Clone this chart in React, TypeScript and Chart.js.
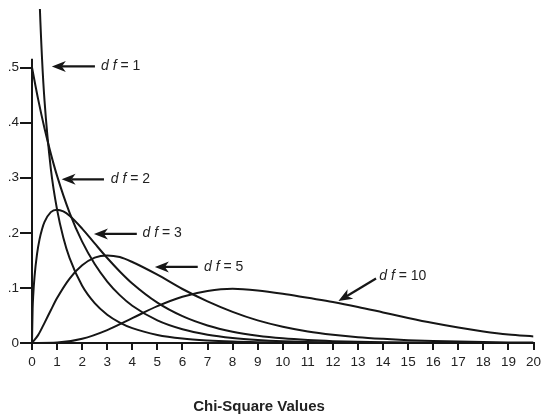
import React, { useEffect, useRef } from "react";
import { Chart, registerables } from "chart.js";

Chart.register(...registerables);

// ---- data (chi-square densities) ----
const df1X = [0.1, 0.2, 0.3, 0.4, 0.5, 0.75, 1, 1.25, 1.5, 2, 2.5, 3, 3.5, 4, 5, 6, 7, 8, 9, 10, 12, 14, 16, 18, 20];
const df1Y = [1.2, 0.8071, 0.6269, 0.5164, 0.4394, 0.3166, 0.242, 0.191, 0.1539, 0.1038, 0.0723, 0.0514, 0.0371, 0.027, 0.0147, 0.0081, 0.0046, 0.0026, 0.0015, 0.0009, 0.0003, 0.0001, 0, 0, 0];

const df2X = [0, 0.25, 0.5, 0.75, 1, 1.5, 2, 2.5, 3, 3.5, 4, 5, 6, 7, 8, 9, 10, 12, 14, 16, 18, 20];
const df2Y = [0.5, 0.4412, 0.3894, 0.3437, 0.3033, 0.2362, 0.1839, 0.1433, 0.1116, 0.0869, 0.0677, 0.041, 0.0249, 0.0151, 0.0092, 0.0056, 0.0034, 0.0012, 0.0005, 0.0002, 0.0001, 0];

const df3X = [0, 0.025, 0.05, 0.1, 0.2, 0.3, 0.4, 0.5, 0.75, 1, 1.25, 1.5, 2, 2.5, 3, 3.5, 4, 5, 6, 7, 8, 9, 10, 11, 12, 13, 14, 16, 18, 20];
const df3Y = [0, 0.0623, 0.087, 0.12, 0.1614, 0.1881, 0.2066, 0.2197, 0.2375, 0.242, 0.2388, 0.2309, 0.2076, 0.1807, 0.1542, 0.1299, 0.108, 0.0732, 0.0487, 0.0319, 0.0206, 0.0133, 0.0085, 0.0054, 0.0034, 0.0022, 0.0014, 0.0005, 0.0002, 0.0001];

const df5X = [0, 0.25, 0.5, 0.75, 1, 1.5, 2, 2.5, 3, 3.5, 4, 5, 6, 7, 8, 9, 10, 11, 12, 13, 14, 15, 16, 17, 18, 19, 20];
const df5Y = [0, 0.0147, 0.0366, 0.0594, 0.0815, 0.117, 0.141, 0.155, 0.159, 0.156, 0.147, 0.124, 0.098, 0.0755, 0.0565, 0.041, 0.0295, 0.021, 0.015, 0.0105, 0.0075, 0.0052, 0.0036, 0.0025, 0.0017, 0.0011, 0.0007];

const df10X = [0, 1, 2, 3, 4, 5, 6, 7, 8, 9, 10, 11, 12, 13, 14, 15, 16, 17, 18, 19, 20];
const df10Y = [0, 0.0008, 0.0077, 0.0235, 0.0451, 0.0668, 0.084, 0.0944, 0.0985, 0.0955, 0.0895, 0.082, 0.0745, 0.0655, 0.0555, 0.0455, 0.0362, 0.028, 0.021, 0.0155, 0.012];

const yTickValues = [0, 0.1, 0.2, 0.3, 0.4, 0.5];
const yTickLabels = ["0", ".1", ".2", ".3", ".4", ".5"];
const xAxisTitle = "Chi-Square Values";

const curveLabels = ["1", "2", "3", "5", "10"];
// annotation geometry in data units: arrow tip, arrow tail, text anchor
const annTip = [[0.79, 0.502], [1.18, 0.297], [2.47, 0.198], [4.9, 0.138], [12.22, 0.076]];
const annTail = [[2.51, 0.502], [2.87, 0.297], [4.18, 0.198], [6.61, 0.138], [13.72, 0.117]];
const annText = [[2.75, 0.503], [3.14, 0.298], [4.41, 0.199], [6.86, 0.138], [13.85, 0.122]];

const FONT = "'Liberation Sans', Arial, Helvetica, sans-serif";
const INK = "#161616";

function pts(xs: number[], ys: number[]) {
  return xs.map((x, i) => ({ x, y: ys[i] }));
}

const overlayPlugin = {
  id: "overlay",
  afterDraw(chart: any) {
    const { ctx, scales } = chart;
    const xs = scales.x;
    const ys = scales.y;
    ctx.save();
    // y axis line
    ctx.strokeStyle = INK;
    ctx.lineWidth = 2;
    ctx.beginPath();
    ctx.moveTo(xs.getPixelForValue(0), ys.getPixelForValue(0));
    ctx.lineTo(xs.getPixelForValue(0), ys.getPixelForValue(0.516));
    ctx.stroke();

    // annotations
    curveLabels.forEach((lab, i) => {
      const tx = xs.getPixelForValue(annTip[i][0]);
      const ty = ys.getPixelForValue(annTip[i][1]);
      const sx = xs.getPixelForValue(annTail[i][0]);
      const sy = ys.getPixelForValue(annTail[i][1]);
      const dx = tx - sx;
      const dy = ty - sy;
      const len = Math.hypot(dx, dy);
      const ux = dx / len;
      const uy = dy / len;
      const nx = -uy;
      const ny = ux;
      const L = 14;
      const W = 5.5;
      const notch = 4;
      ctx.strokeStyle = INK;
      ctx.fillStyle = INK;
      ctx.lineWidth = 2.2;
      ctx.beginPath();
      ctx.moveTo(sx, sy);
      ctx.lineTo(tx - ux * (L - notch), ty - uy * (L - notch));
      ctx.stroke();
      ctx.beginPath();
      ctx.moveTo(tx, ty);
      ctx.lineTo(tx - ux * L + nx * W, ty - uy * L + ny * W);
      ctx.lineTo(tx - ux * (L - notch), ty - uy * (L - notch));
      ctx.lineTo(tx - ux * L - nx * W, ty - uy * L - ny * W);
      ctx.closePath();
      ctx.fill();

      const px = xs.getPixelForValue(annText[i][0]);
      const py = ys.getPixelForValue(annText[i][1]);
      ctx.textBaseline = "middle";
      ctx.textAlign = "left";
      ctx.fillStyle = "#222";
      ctx.font = `italic 14px ${FONT}`;
      const a = "d f";
      ctx.fillText(a, px, py);
      const w = ctx.measureText(a).width;
      ctx.font = `14px ${FONT}`;
      ctx.fillText(" = " + lab, px + w, py);
    });

    // x axis title
    ctx.font = `bold 15px ${FONT}`;
    ctx.fillStyle = "#222";
    ctx.textAlign = "center";
    ctx.textBaseline = "middle";
    ctx.fillText(xAxisTitle, 259, 407);
    ctx.restore();
  },
};

export default function App() {
  const ref = useRef<HTMLCanvasElement | null>(null);
  useEffect(() => {
    if (!ref.current) return;
    const line = (xs: number[], ys: number[], label: string) => ({
      label,
      data: pts(xs, ys),
      borderColor: INK,
      borderWidth: 2,
      pointRadius: 0,
      fill: false,
      cubicInterpolationMode: "monotone" as const,
    });
    const chart = new Chart(ref.current, {
      type: "line",
      data: {
        datasets: [
          line(df1X, df1Y, "df=1"),
          line(df2X, df2Y, "df=2"),
          line(df3X, df3Y, "df=3"),
          line(df5X, df5Y, "df=5"),
          line(df10X, df10Y, "df=10"),
        ],
      },
      options: {
        animation: false,
        responsive: false,
        layout: { padding: { left: 0, right: 13.5, top: 0, bottom: 0 } },
        plugins: { legend: { display: false }, tooltip: { enabled: false } },
        scales: {
          x: {
            type: "linear",
            min: 0,
            max: 20,
            afterFit: (s: any) => {
              s.height = 76;
            },
            border: { display: true, color: INK, width: 2 },
            grid: { drawOnChartArea: false, tickLength: 7, color: INK, lineWidth: 2 },
            ticks: {
              stepSize: 1,
              padding: 4,
              color: "#222",
              font: { family: FONT, size: 13.5 },
              maxRotation: 0,
            },
          },
          y: {
            type: "linear",
            min: 0,
            max: 0.606,
            afterFit: (s: any) => {
              s.width = 32;
            },
            afterBuildTicks: (s: any) => {
              s.ticks = yTickValues.map((v) => ({ value: v }));
            },
            border: { display: false },
            grid: { drawOnChartArea: false, tickLength: 12, color: INK, lineWidth: 2 },
            ticks: {
              padding: 1,
              color: "#222",
              font: { family: FONT, size: 13.5 },
              callback: (v: any) => {
                const i = yTickValues.findIndex((t) => Math.abs(t - v) < 1e-6);
                return i >= 0 ? yTickLabels[i] : "";
              },
            },
          },
        },
      },
      plugins: [overlayPlugin],
    });
    return () => chart.destroy();
  }, []);
  return (
    <div style={{ position: "absolute", left: 0, top: 0, width: 547, height: 419, background: "#fff" }}>
      <canvas ref={ref} width={547} height={419} />
    </div>
  );
}
